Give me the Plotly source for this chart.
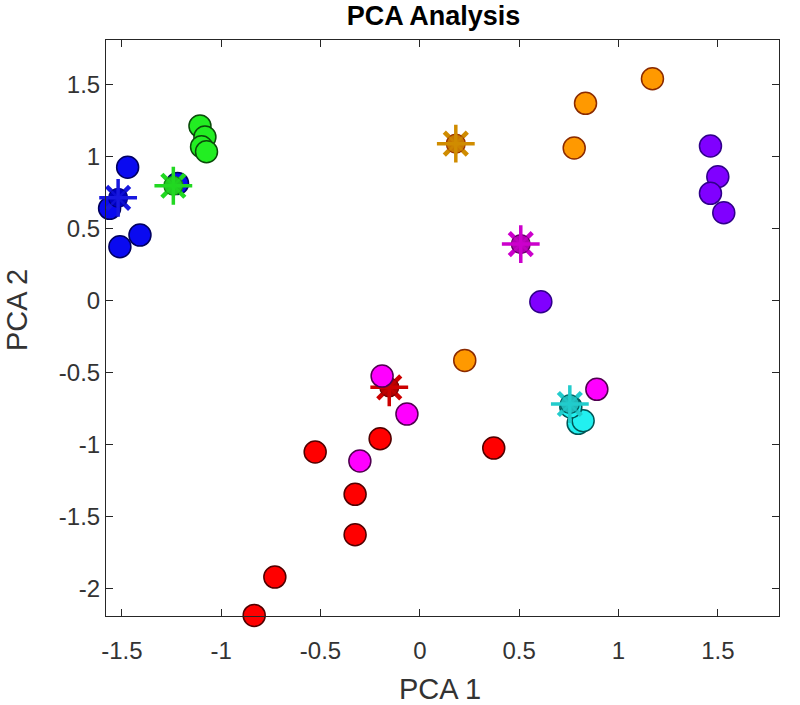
import plotly.graph_objects as go

# ---- data ----
blue_x = [-1.471, -1.562, -1.409, -1.510, -1.220]
blue_y = [0.924, 0.639, 0.453, 0.372, 0.812]
green_x = [-1.107, -1.082, -1.099, -1.074]
green_y = [1.210, 1.134, 1.067, 1.032]
orange_x = [0.834, 1.171, 0.777, 0.226]
orange_y = [1.368, 1.539, 1.058, -0.417]
purple_x = [1.463, 1.500, 1.463, 1.530, 0.609]
purple_y = [1.072, 0.858, 0.743, 0.608, -0.010]
red_x = [-0.200, -0.527, -0.326, -0.326, -0.730, -0.834, 0.372]
red_y = [-0.961, -1.053, -1.347, -1.628, -1.922, -2.188, -1.026]
magenta_x = [-0.190, -0.065, -0.302, 0.891]
magenta_y = [-0.526, -0.790, -1.116, -0.618]
cyan_x = [0.797, 0.822, 0.760]
cyan_y = [-0.854, -0.836, -0.740]

centroid_names = ["blue", "green", "orange", "purple", "red", "magenta", "cyan"]
centroid_x = [-1.519, -1.241, 0.181, 1.812, -0.154, 0.508, 0.755]
centroid_y = [0.712, 0.796, 1.088, 0.824, -0.604, 0.391, -0.720]

x_ticks = [-1.5, -1, -0.5, 0, 0.5, 1, 1.5]
x_tick_labels = ["-1.5", "-1", "-0.5", "0", "0.5", "1", "1.5"]
y_ticks = [-2, -1.5, -1, -0.5, 0, 0.5, 1, 1.5]
y_tick_labels = ["-2", "-1.5", "-1", "-0.5", "0", "0.5", "1", "1.5"]

# ---- styles ----
FONT = "Liberation Sans, Arial, sans-serif"
point_style = {
    "blue": ("#0a0af0", "#000060"),
    "green": ("#22ee22", "#0a4a0a"),
    "orange": ("#ff9900", "#8a2a00"),
    "purple": ("#8000ff", "#30008a"),
    "red": ("#ff0000", "#500000"),
    "magenta": ("#ff00ff", "#500050"),
    "cyan": ("#22f0f0", "#005555"),
}
star_style = {  # (circle fill, spoke colour, circle edge)
    "blue": ("#0000c0", "#1818e0", "#000080"),
    "green": ("#22c822", "#22d822", "#118811"),
    "orange": ("#c87800", "#d08c00", "#993300"),
    "purple": ("#6400c0", "#7a00d0", "#3a0080"),
    "red": ("#b00000", "#cc0000", "#700000"),
    "magenta": ("#b000b0", "#cc00cc", "#600060"),
    "cyan": ("#20b8b8", "#22cccc", "#006060"),
}
groups = {
    "blue": (blue_x, blue_y),
    "green": (green_x, green_y),
    "orange": (orange_x, orange_y),
    "purple": (purple_x, purple_y),
    "red": (red_x, red_y),
    "magenta": (magenta_x, magenta_y),
    "cyan": (cyan_x, cyan_y),
}

fig = go.Figure()
order = ["blue", "green", "orange", "purple", "red", "magenta", "cyan"]
for name in order:
    gx, gy = groups[name]
    fill, edge = point_style[name]
    fig.add_trace(go.Scatter(
        x=gx, y=gy, mode="markers", cliponaxis=False, showlegend=False,
        marker=dict(symbol="circle", size=22, color=fill,
                    line=dict(color=edge, width=1.5))))
    i = centroid_names.index(name)
    cx, cy = [centroid_x[i]], [centroid_y[i]]
    cfill, spoke, cedge = star_style[name]
    fig.add_trace(go.Scatter(
        x=cx, y=cy, mode="markers", cliponaxis=False, showlegend=False,
        marker=dict(symbol="x-thin-open", size=23, color=spoke,
                    line=dict(color=spoke, width=4.5))))
    fig.add_trace(go.Scatter(
        x=cx, y=cy, mode="markers", cliponaxis=False, showlegend=False,
        marker=dict(symbol="circle", size=19, color=cfill,
                    line=dict(color=cedge, width=1.2))))
    fig.add_trace(go.Scatter(
        x=cx, y=cy, mode="markers", cliponaxis=False, showlegend=False,
        marker=dict(symbol="cross-thin-open", size=27, color=spoke,
                    line=dict(color=spoke, width=3.5))))
    fig.add_trace(go.Scatter(
        x=cx, y=cy, mode="markers", cliponaxis=False, showlegend=False,
        marker=dict(symbol="x-thin-open", size=17, color=spoke,
                    line=dict(color=spoke, width=2.5), opacity=0.6)))

axis_common = dict(
    showline=True, linecolor="#262626", linewidth=1, mirror="ticks",
    ticks="inside", ticklen=7, tickcolor="#262626", tickwidth=1,
    showgrid=False, zeroline=False,
    tickfont=dict(family=FONT, size=24, color="#333333"),
)
fig.update_xaxes(range=[-1.58, 1.808], tickmode="array", tickvals=x_ticks,
                 ticktext=x_tick_labels, ticklabelstandoff=13, **axis_common)
fig.update_yaxes(range=[-2.192, 1.808], tickmode="array", tickvals=y_ticks,
                 ticktext=y_tick_labels, **axis_common)

fig.add_annotation(text="PCA 1", xref="paper", yref="paper", x=0.4963, y=-0.1267,
                   xanchor="center", yanchor="middle", showarrow=False,
                   font=dict(family=FONT, size=29, color="#333333"))
fig.add_annotation(text="PCA 2", xref="paper", yref="paper", x=-0.1322, y=0.5313,
                   xanchor="center", yanchor="middle", showarrow=False, textangle=-90,
                   font=dict(family=FONT, size=29, color="#333333"))

fig.update_layout(
    width=800, height=705,
    margin=dict(l=106, r=21, t=40, b=89, autoexpand=False),
    plot_bgcolor="white", paper_bgcolor="white",
    title=dict(text="<b>PCA Analysis</b>", xref="container", yref="container",
               x=0.542, xanchor="center", y=0.9775, yanchor="middle",
               font=dict(family=FONT, size=27, color="#000000")),
)
fig.write_html("out.html", config={"displayModeBar": False},
               post_script="document.body.style.margin='0px';")
